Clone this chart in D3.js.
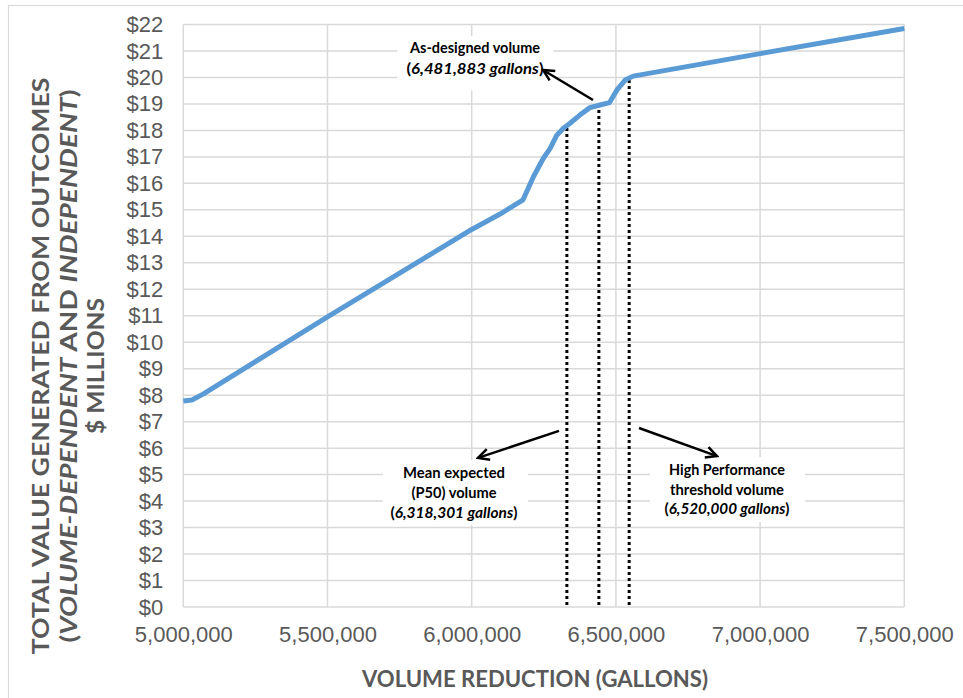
<!DOCTYPE html>
<html><head><meta charset="utf-8">
<script src="https://cdn.jsdelivr.net/npm/d3@7"></script>
<style>body{margin:0;background:#fff}svg{display:block}</style>
</head><body><svg id="c" width="963" height="698"></svg>
<script>
// ---- data ----
const volume = [5000000,5030000,5070000,5500000,6000000,6100000,6178000,6214000,6248000,6272000,6295000,6318000,6341000,6375000,6410000,6445000,6478000,6503000,6532000,6560000,7000000,7500000];
const valueM = [7.78,7.82,8.05,10.96,14.26,14.85,15.38,16.25,16.94,17.32,17.82,18.08,18.27,18.58,18.86,18.96,19.05,19.52,19.9,20.05,20.9,21.85];
const xTicks = [5000000,5500000,6000000,6500000,7000000,7500000];
const yTicks = [0,1,2,3,4,5,6,7,8,9,10,11,12,13,14,15,16,17,18,19,20,21,22];
const markerVolume = [6330000,6441000,6546000];
const markerTop = [18.15,18.8,19.95];
const annoLines = [
  [[["As-designed volume",0]],[["(",0],["6,481,883 gallons",1],[")",0]]],
  [[["Mean expected",0]],[["(P50) volume",0]],[["(",0],["6,318,301 gallons",1],[")",0]]],
  [[["High Performance",0]],[["threshold volume",0]],[["(",0],["6,520,000 gallons",1],[")",0]]]
];
const annoCenterX = [6011400,5938600,6885300];
const annoLineY = [[21.11,20.32],[5.06,4.31,3.55],[5.17,4.42,3.70]];
const annoLineW = [[130,137],[102,85,127],[116,114,125]];
const annoBoxX = [[5741900,6282800],[5692400,6195100],[6618100,7155500]];
const annoBoxY = [[21.56,19.52],[5.55,3.10],[5.66,3.21]];
const arrowFrom = [[6420600,19.15],[6302700,6.65],[6580100,6.76]];
const arrowTo = [[6247300,20.28],[6021900,5.63],[6850500,5.70]];

// ---- layout ----
const svg = d3.select("#c");
const x = d3.scaleLinear().domain([5000000,7500000]).range([183.3,904.3]);
const y = d3.scaleLinear().domain([0,22]).range([607,24.5]);
const grid = "#d9d9d9", txt = "#595959";

svg.append("rect").attr("x",8.5).attr("y",5.5).attr("width",980).attr("height",720)
  .attr("fill","none").attr("stroke",grid).attr("stroke-width",1.2);

// gridlines
svg.append("g").selectAll("line").data(yTicks).join("line")
  .attr("x1",x.range()[0]).attr("x2",x.range()[1]).attr("y1",d=>y(d)).attr("y2",d=>y(d))
  .attr("stroke",grid).attr("stroke-width",1.5);
svg.append("g").selectAll("line").data(xTicks).join("line")
  .attr("x1",d=>x(d)).attr("x2",d=>x(d)).attr("y1",y(0)).attr("y2",y(22))
  .attr("stroke",grid).attr("stroke-width",1.5);

// axes
const ya = svg.append("g").attr("transform",`translate(${x.range()[0]},0)`)
  .call(d3.axisLeft(y).tickValues(yTicks).tickFormat(d=>"$"+d).tickSize(0).tickPadding(20));
const xa = svg.append("g").attr("transform",`translate(0,${y(0)})`)
  .call(d3.axisBottom(x).tickValues(xTicks).tickFormat(d3.format(",")).tickSize(0).tickPadding(19));
[ya,xa].forEach(a=>{a.select(".domain").remove();
  a.selectAll("text").attr("font-family","'Liberation Sans',Arial,sans-serif").attr("font-size",22).attr("fill",txt);});

// annotation boxes
annoBoxX.forEach((bx,i)=>{
  svg.append("rect").attr("x",x(bx[0])).attr("width",x(bx[1])-x(bx[0]))
    .attr("y",y(annoBoxY[i][0])).attr("height",y(annoBoxY[i][1])-y(annoBoxY[i][0])).attr("fill","#fff");
});

// dotted marker lines
svg.append("g").selectAll("line").data(markerVolume).join("line")
  .attr("x1",d=>x(d)).attr("x2",d=>x(d)).attr("y1",y(0)-2).attr("y2",(d,i)=>y(markerTop[i]))
  .attr("stroke","#000").attr("stroke-width",3).attr("stroke-dasharray","3,3");

// curve
const pts = volume.map((v,i)=>[v,valueM[i]]);
svg.append("path").datum(pts)
  .attr("d",d3.line().x(d=>x(d[0])).y(d=>y(d[1])).curve(d3.curveLinear))
  .attr("fill","none").attr("stroke","#5b9bd5").attr("stroke-width",5).attr("stroke-linejoin","round");

// arrows
svg.append("defs").append("marker").attr("id","ah").attr("markerUnits","userSpaceOnUse")
  .attr("viewBox","-14 -8 16 16").attr("refX",0).attr("refY",0).attr("markerWidth",16).attr("markerHeight",16)
  .attr("orient","auto").append("path").attr("d","M-11,-5.5L0,0L-11,5.5").attr("fill","none")
  .attr("stroke","#000").attr("stroke-width",2.5);
arrowFrom.forEach((f,i)=>{
  svg.append("line").attr("x1",x(f[0])).attr("y1",y(f[1])).attr("x2",x(arrowTo[i][0])).attr("y2",y(arrowTo[i][1]))
    .attr("stroke","#000").attr("stroke-width",2.5).attr("marker-end","url(#ah)");
});

// annotation texts
annoLines.forEach((lines,i)=>{
  lines.forEach((parts,j)=>{
    const t = svg.append("text").attr("x",x(annoCenterX[i])).attr("y",y(annoLineY[i][j])).attr("dy","0.36em")
      .attr("text-anchor","middle").attr("font-family","Lato,'Open Sans',sans-serif").attr("font-weight","bold")
      .attr("font-size",14.5).attr("fill","#000")
      .attr("textLength",annoLineW[i][j]).attr("lengthAdjust","spacingAndGlyphs");
    parts.forEach(p=>t.append("tspan").text(p[0]).attr("font-style",p[1]?"italic":"normal"));
  });
});

// axis titles
const yTitle = [
  {parts:[["TOTAL VALUE GENERATED FROM OUTCOMES",0]], bx:49, len:577},
  {parts:[["(",0],["VOLUME-DEPENDENT",1],[" AND ",0],["INDEPENDENT",1],[")",0]], bx:77, len:553},
  {parts:[["$ MILLIONS",0]], bx:104, len:136}
];
yTitle.forEach(l=>{
  const t = svg.append("text").attr("transform",`translate(${l.bx},366) rotate(-90)`)
    .attr("text-anchor","middle").attr("font-family","Lato,'Open Sans',sans-serif").attr("font-weight","bold")
    .attr("font-size",23).attr("fill",txt).attr("textLength",l.len).attr("lengthAdjust","spacingAndGlyphs");
  l.parts.forEach(p=>t.append("tspan").text(p[0]).attr("font-style",p[1]?"italic":"normal"));
});
svg.append("text").attr("x",535).attr("y",687).attr("text-anchor","middle")
  .attr("font-family","Lato,'Open Sans',sans-serif").attr("font-weight","bold").attr("font-size",23)
  .attr("fill",txt).attr("textLength",346).attr("lengthAdjust","spacingAndGlyphs")
  .text("VOLUME REDUCTION (GALLONS)");
</script></body></html>
